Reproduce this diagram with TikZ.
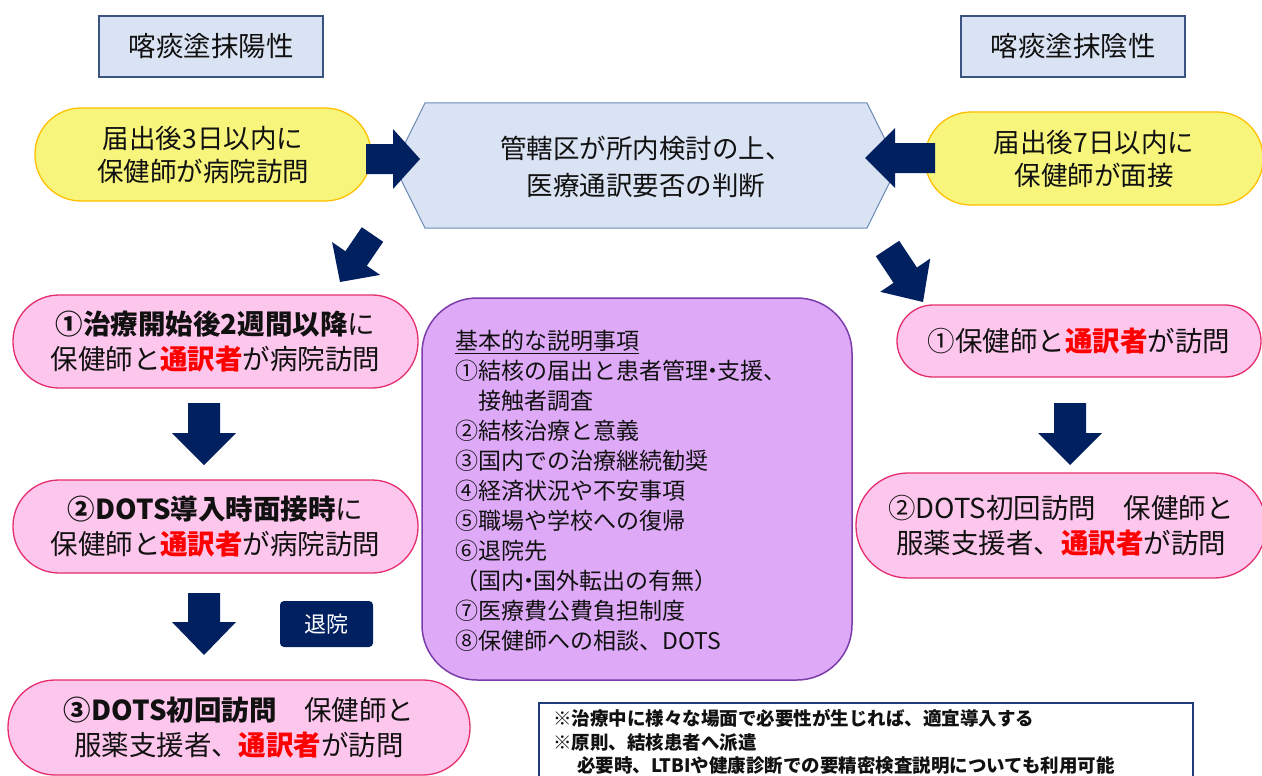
\documentclass[tikz,border=0pt]{standalone}
\usepackage{fontspec}
\setmainfont{Noto Sans CJK JP}
\definecolor{navy}{HTML}{002060}
\definecolor{boxblue}{HTML}{DAE3F3}
\definecolor{hdrline}{HTML}{3B5380}
\definecolor{hexline}{HTML}{6A8BB5}
\definecolor{ylfill}{HTML}{F7F57B}
\definecolor{ylline}{HTML}{FFC000}
\definecolor{pkfill}{HTML}{FDC6EC}
\definecolor{pkline}{HTML}{E52D6E}
\definecolor{ppfill}{HTML}{DEAAF7}
\definecolor{ppline}{HTML}{7A3DAA}
\definecolor{noteline}{HTML}{1F3C7A}
\definecolor{txt}{HTML}{111111}
\newcommand\fsz[2]{\fontsize{#1}{#2}\selectfont}
\newcommand\tsuyaku{\textcolor{red}{\textbf{通訳者}}}
\newcommand\ndot{\kern-0.3em・\kern-0.3em}
\begin{document}
\begin{tikzpicture}[x=1pt,y=-1pt,
  hdr/.style={draw=hdrline, fill=boxblue, line width=1.5pt, minimum width=224pt, minimum height=61pt, inner sep=0pt, font=\fsz{27.5}{32}, text=txt},
  pillY/.style={draw=ylline, fill=ylfill, line width=1.3pt, inner sep=0pt, align=center, font=\fsz{26.5}{33}, text=txt},
  pillP/.style={draw=pkline, fill=pkfill, line width=1.3pt, inner sep=0pt, align=center, font=\fsz{27.5}{35}, text=txt},
  blk/.style={fill=navy}]
\useasboundingbox (0,0) rectangle (1262,776);
\clip (0,0) rectangle (1262,776);
\fill[white] (0,0) rectangle (1262,776);

% headers
\node[hdr] (posH) at (211,46.5) {喀痰塗抹陽性};
\node[hdr] (negH) at (1073,46.5) {喀痰塗抹陰性};

% yellow pills
\node[pillY, minimum width=336pt, minimum height=93pt, rounded corners=46pt] (yL) at (203,154.5) {届出後3日以内に\\保健師が病院訪問};
\node[pillY, minimum width=338pt, minimum height=93pt, rounded corners=46pt] (yR) at (1094,158.5) {届出後7日以内に\\保健師が面接};

% hexagon
\draw[fill=boxblue, draw=hexline, line width=1pt] (394,165.5) -- (425,103) -- (867,103) -- (898,165.5) -- (867,228) -- (425,228) -- cycle;
\node[align=center, font=\fsz{26.5}{37}, text=txt] (hex) at (646,167) {管轄区が所内検討の上、\\医療通訳要否の判断};

% pink pills left
\node[pillP, minimum width=405pt, minimum height=93pt, rounded corners=46pt] (L1) at (215.5,341.5) {\textbf{①治療開始後2週間以降}に\\保健師と\tsuyaku が病院訪問};
\node[pillP, minimum width=405pt, minimum height=93pt, rounded corners=46pt] (L2) at (215.5,526.5) {\textbf{②DOTS導入時面接時}に\\保健師と\tsuyaku が病院訪問};
\node[pillP, minimum width=462pt, minimum height=95pt, rounded corners=47pt] (L3) at (239,727.5) {\textbf{③DOTS初回訪問}　保健師と\\服薬支援者、\tsuyaku が訪問};

% pink pills right
\node[pillP, minimum width=364pt, minimum height=72pt, rounded corners=36pt] (R1) at (1079,341) {①保健師と\tsuyaku が訪問};
\node[pillP, minimum width=410pt, minimum height=105pt, rounded corners=52pt] (R2) at (1061,525.5) {②DOTS初回訪問　保健師と\\服薬支援者、\tsuyaku が訪問};

% purple box
\draw[fill=ppfill, draw=ppline, line width=1.5pt, rounded corners=55pt] (422,298) rectangle (852,680);
\node[anchor=west, align=left, inner sep=0pt, font=\fsz{23}{30}, text=txt] (expl) at (455,491) {\underline{基本的な説明事項}\\①結核の届出と患者管理\ndot 支援、\\\hspace*{23pt}接触者調査\\②結核治療と意義\\③国内での治療継続勧奨\\④経済状況や不安事項\\⑤職場や学校への復帰\\⑥退院先\\（国内\ndot 国外転出の有無）\\⑦医療費公費負担制度\\⑧保健師への相談、DOTS};

% discharge label
\node[fill=navy, rounded corners=4pt, minimum width=93pt, minimum height=46pt, inner sep=0pt, text=white, font=\fsz{22}{26}] (dis) at (326.5,624) {退院};

% note box
\draw[draw=noteline, line width=1.5pt] (539,703) rectangle (1193,800);
\node[anchor=west, align=left, inner sep=0pt, font=\bfseries\fsz{18.5}{23.5}, text=txt] (note) at (553,742) {※治療中に様々な場面で必要性が生じれば、適宜導入する\\※原則、結核患者へ派遣\\\hspace*{24pt}必要時、LTBIや健康診断での要精密検査説明についても利用可能};

% block arrows
\fill[blk] (366,144) -- (393,144) -- (393,129) -- (420,159) -- (393,189) -- (393,174) -- (366,174) -- cycle;
\fill[blk] (935,143) -- (895,143) -- (895,128) -- (865,158) -- (895,188) -- (895,173) -- (935,173) -- cycle;
\fill[blk] (361.8,227.2) -- (383.2,241.8) -- (366.8,265.8) -- (380.1,274.9) -- (340,282) -- (332.1,242.1) -- (345.4,251.2) -- cycle;
\fill[blk] (899.2,240.8) -- (875.8,256.2) -- (893.5,282.9) -- (880.2,291.8) -- (923,302) -- (930.2,258.6) -- (916.9,267.5) -- cycle;
\fill[blk] (188,403) -- (220,403) -- (220,433) -- (236,433) -- (204,465) -- (172,433) -- (188,433) -- cycle;
\fill[blk] (188,593) -- (220,593) -- (220,622) -- (236,622) -- (204,655) -- (172,622) -- (188,622) -- cycle;
\fill[blk] (1054,403) -- (1086,403) -- (1086,433) -- (1102,433) -- (1070,465) -- (1038,433) -- (1054,433) -- cycle;
\end{tikzpicture}
\end{document}
